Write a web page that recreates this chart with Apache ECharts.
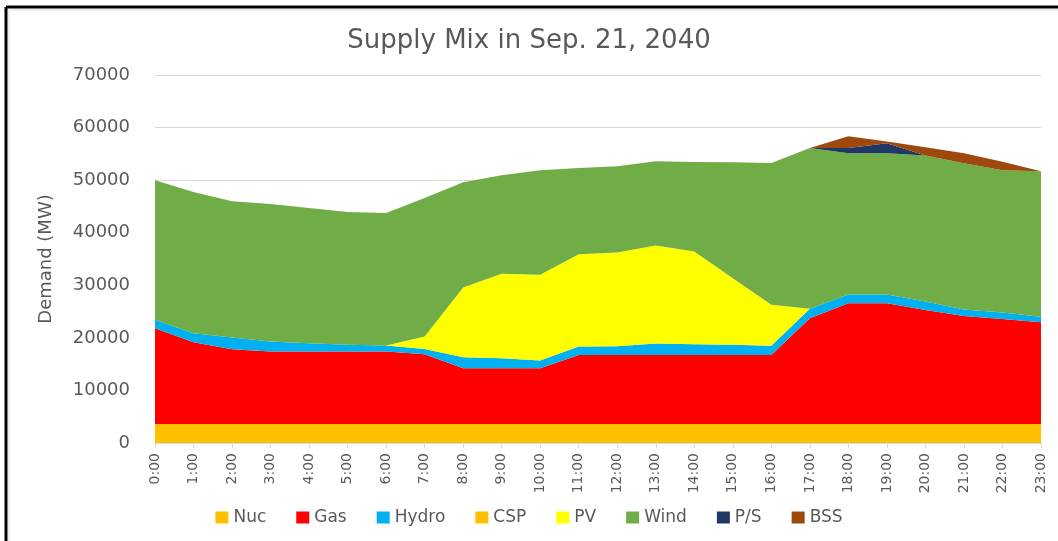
<!DOCTYPE html>
<html>
<head>
<meta charset="utf-8">
<script src="https://cdn.jsdelivr.net/npm/echarts@6/dist/echarts.min.js"></script>
<style>
html,body{margin:0;padding:0;background:#fff;}
#chart{width:1058px;height:541px;}
</style>
</head>
<body>
<div id="chart"></div>
<script>
var hours = ['0:00','1:00','2:00','3:00','4:00','5:00','6:00','7:00','8:00','9:00','10:00','11:00','12:00','13:00','14:00','15:00','16:00','17:00','18:00','19:00','20:00','21:00','22:00','23:00'];
var nuc   = [3600,3600,3600,3600,3600,3600,3600,3600,3600,3600,3600,3600,3600,3600,3600,3600,3600,3600,3600,3600,3600,3600,3600,3600];
var gas   = [18250,15580,14250,13800,13800,13800,13800,13300,10600,10600,10600,13160,13160,13160,13160,13160,13160,20140,22990,22990,21700,20560,19990,19350];
var hydro = [1580,1710,2210,1900,1590,1270,1140,1000,2120,1930,1480,1590,1640,2160,2040,1910,1720,1780,1670,1670,1600,1240,1230,1050];
var csp   = [0,0,0,0,0,0,0,0,0,0,0,0,0,0,0,0,0,0,0,0,0,0,0,0];
var pv    = [0,0,0,0,0,0,0,2350,13260,16060,16320,17530,17850,18660,17640,12690,7800,0,0,0,0,0,0,0];
var wind  = [26530,26860,25910,26160,25710,25270,25210,26350,20000,18730,19870,16440,16380,16010,17020,22040,26990,30580,26870,26870,27800,27830,27040,27670];
var ps    = [0,0,0,0,0,0,0,0,0,0,0,0,0,0,0,0,0,0,970,1900,0,0,0,0];
var bss   = [0,0,0,0,0,0,0,0,0,0,0,0,0,0,0,0,0,0,2240,300,1580,1900,1660,0];
var yTicks = [0,10000,20000,30000,40000,50000,60000,70000];

var names  = ['Nuc','Gas','Hydro','CSP','PV','Wind','P/S','BSS'];
var data   = [nuc,gas,hydro,csp,pv,wind,ps,bss];
var colors = ['#FFC000','#FF0000','#00B0F0','#FFC000','#FFFF00','#70AD47','#203864','#9E480E'];

var FONT = 'DejaVu Sans';
var chart = echarts.init(document.getElementById('chart'));
chart.setOption({
  animation:false,
  backgroundColor:'#fff',
  color:colors,
  title:{text:'Supply Mix in Sep. 21, 2040',left:'center',top:23,
    textStyle:{fontFamily:FONT,fontSize:26,fontWeight:'normal',color:'#595959'}},
  legend:{bottom:10,left:'center',itemWidth:13,itemHeight:12,itemGap:30,icon:'rect',
    data:names,
    textStyle:{fontFamily:FONT,fontSize:17,color:'#595959'}},
  grid:{left:155,right:17,top:75,bottom:98},
  xAxis:{type:'category',data:hours,boundaryGap:false,
    axisLine:{lineStyle:{color:'#D9D9D9'}},
    axisTick:{show:true,alignWithLabel:true,lineStyle:{color:'#D9D9D9'}},
    axisLabel:{rotate:90,fontFamily:FONT,fontSize:14,color:'#595959',margin:10,interval:0}},
  yAxis:{type:'value',min:yTicks[0],max:yTicks[yTicks.length-1],interval:10000,
    name:'Demand (MW)',nameLocation:'middle',nameGap:100,nameRotate:90,
    nameTextStyle:{fontFamily:FONT,fontSize:18,color:'#595959'},
    axisLine:{show:false},axisTick:{show:false},
    splitLine:{lineStyle:{color:'#D9D9D9'}},
    axisLabel:{fontFamily:FONT,fontSize:18,color:'#595959',margin:25,
      formatter:function(v){return String(v);}}},
  graphic:[
    {type:'line',shape:{x1:6,y1:7,x2:1058,y2:7},style:{stroke:'#000',lineWidth:3}},
    {type:'line',shape:{x1:6,y1:7,x2:6,y2:541},style:{stroke:'#000',lineWidth:3}},
    {type:'line',shape:{x1:9,y1:10,x2:1058,y2:10},style:{stroke:'#D9D9D9',lineWidth:1}},
    {type:'line',shape:{x1:9,y1:10,x2:9,y2:541},style:{stroke:'#D9D9D9',lineWidth:1}}
  ],
  series:names.map(function(n,i){
    return {name:n,type:'line',stack:'total',data:data[i],
      showSymbol:false,symbol:'none',
      lineStyle:{width:0},
      areaStyle:{color:colors[i],opacity:1},
      itemStyle:{color:colors[i]}};
  })
});
</script>
</body>
</html>
